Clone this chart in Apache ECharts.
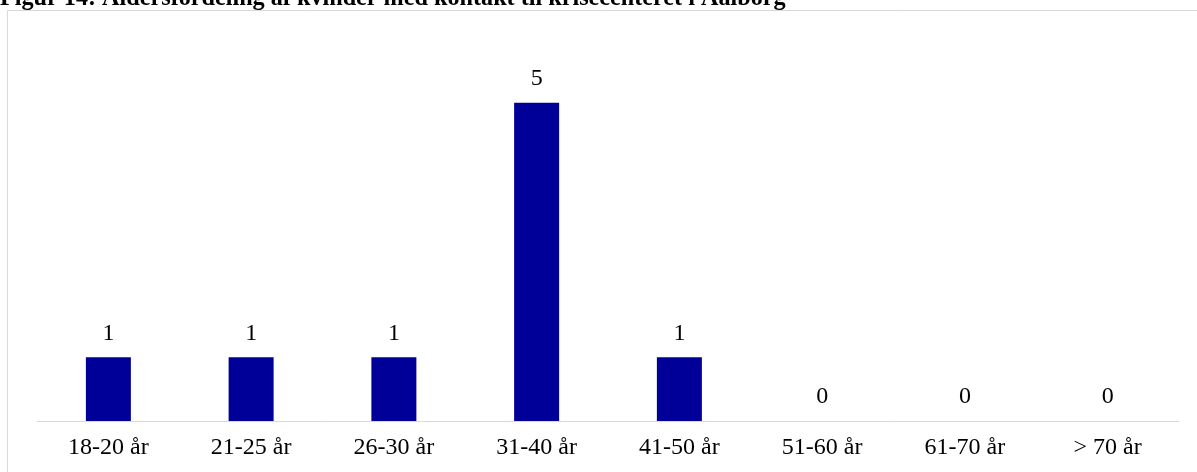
<!DOCTYPE html>
<html>
<head>
<meta charset="utf-8">
<script src="https://cdn.jsdelivr.net/npm/echarts@6/dist/echarts.min.js"></script>
<style>html,body{margin:0;padding:0;background:#fff}#c{width:1197px;height:472px}</style>
</head>
<body>
<div id="c"></div>
<script>
var titleText = 'Figur 14: Aldersfordeling af kvinder med kontakt til krisecenteret i Aalborg';
var categories = ['18-20 år','21-25 år','26-30 år','31-40 år','41-50 år','51-60 år','61-70 år','> 70 år'];
var values = [1, 1, 1, 5, 1, 0, 0, 0];

var chart = echarts.init(document.getElementById('c'), null, {renderer:'canvas'});
chart.setOption({
  animation: false,
  backgroundColor: '#fff',
  title: {
    text: titleText,
    left: 0,
    top: -13,
    padding: 0,
    textStyle: {fontFamily: 'Liberation Serif', fontSize: 24.2, fontWeight: 'bold', color: '#000'}
  },
  graphic: [{
    type: 'rect',
    shape: {x: 7.5, y: 10.5, width: 1300, height: 500},
    style: {fill: 'none', stroke: '#d9d9d9', lineWidth: 1},
    silent: true,
    z: -1
  }],
  grid: {left: 37, right: 18, top: 39, bottom: 51},
  xAxis: {
    type: 'category',
    data: categories,
    axisLine: {lineStyle: {color: '#d9d9d9', width: 1}},
    axisTick: {show: false},
    axisLabel: {margin: 15, fontFamily: 'Liberation Serif', fontSize: 24, color: '#000'}
  },
  yAxis: {
    type: 'value', min: 0, max: 6, show: false, splitLine: {show: false}
  },
  series: [{
    type: 'bar',
    data: values,
    barWidth: 45,
    itemStyle: {color: '#000099'},
    label: {show: true, position: 'top', distance: 12, fontFamily: 'Liberation Serif', fontSize: 24, color: '#000'}
  }]
});
</script>
</body>
</html>
